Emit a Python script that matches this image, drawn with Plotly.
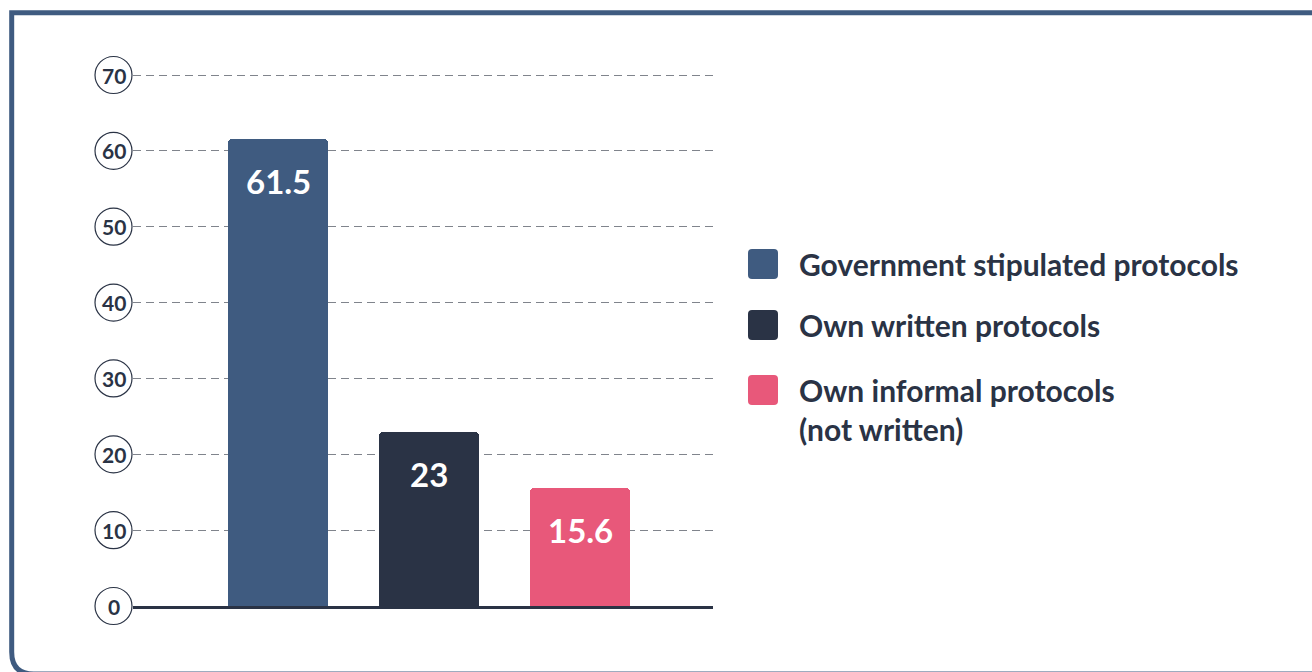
import plotly.graph_objects as go

# Survey shares by protocol type (%)
categories = ["Government stipulated protocols", "Own written protocols", "Own informal protocols<br>(not written)"]
values = [61.5, 23, 15.6]
value_labels = ["61.5", "23", "15.6"]
colors = ["#3f5b80", "#2a3345", "#e8587a"]
y_ticks = [0, 10, 20, 30, 40, 50, 60, 70]

W, H = 1312, 672
L, R, T, B = 133, 713, 67, 606  # plot-area pixel box
Y_MAX = (B - T) / ((606 - 75) / 70)  # a little headroom above the 70 line
INK = "#2a3345"
FONT = "Lato, 'Open Sans', sans-serif"


def px_x(p):
    return (p - L) / (R - L)


def px_y(p):
    return (B - p) / (B - T)


def rounded_rect(x0, y0, x1, y1, r):
    """Path (paper units) for a rounded rectangle given in pixel coords."""
    segs = [
        ("M", (x0 + r, y0)), ("L", (x1 - r, y0)), ("Q", (x1, y0), (x1, y0 + r)),
        ("L", (x1, y1 - r)), ("Q", (x1, y1), (x1 - r, y1)),
        ("L", (x0 + r, y1)), ("Q", (x0, y1), (x0, y1 - r)),
        ("L", (x0, y0 + r)), ("Q", (x0, y0), (x0 + r, y0)),
    ]
    out = []
    for s in segs:
        out.append(s[0] + " " + " ".join("{:.5f},{:.5f}".format(px_x(a), px_y(b)) for a, b in s[1:]))
    return " ".join(out) + " Z"


x_pos = list(range(len(values)))

fig = go.Figure()
fig.add_trace(go.Bar(
    x=x_pos, y=values, width=0.66,
    marker=dict(color=colors, line=dict(width=0), cornerradius=4),
    hoverinfo="skip", showlegend=False,
))

annotations = []
shapes = []

# value labels inside the top of each bar
for xi, v, lab in zip(x_pos, values, value_labels):
    annotations.append(dict(
        x=xi, y=v, xref="x", yref="y", text=f"<b>{lab}</b>", showarrow=False,
        yanchor="middle", yshift=-42,
        font=dict(family=FONT, size=33, color="white"),
    ))

# circled y tick labels
for t in y_ticks:
    shapes.append(dict(
        type="circle", xref="paper", yref="paper", xsizemode="pixel", ysizemode="pixel",
        xanchor=0, yanchor=t / Y_MAX, x0=-38, x1=-1, y0=-18.5, y1=18.5,
        line=dict(color=INK, width=1.2), fillcolor="rgba(0,0,0,0)", layer="above",
    ))
    annotations.append(dict(
        x=0, y=t / Y_MAX, xref="paper", yref="paper", text=f"<b>{t}</b>", showarrow=False,
        xanchor="center", yanchor="middle", xshift=-19.5,
        font=dict(family=FONT, size=21, color=INK),
    ))

# legend drawn beside the plot
legend_rows = [264, 325, 390]
for cat, col, cy in zip(categories, colors, legend_rows):
    shapes.append(dict(
        type="path", xref="paper", yref="paper",
        path=rounded_rect(748, cy - 15, 778, cy + 15, 4),
        fillcolor=col, line=dict(width=0), layer="above",
    ))
    annotations.append(dict(
        x=px_x(797), y=px_y(cy - 20), xref="paper", yref="paper",
        text=f"<b>{cat}</b>", showarrow=False, xanchor="left", yanchor="top",
        align="left", font=dict(family=FONT, size=30, color=INK),
    ))

# outer frame with a rounded bottom-left corner
pts = [(1330, 12.8), (11.7, 12.8), (11.7, 652)]
path = "M {:.5f},{:.5f}".format(px_x(pts[0][0]), px_y(pts[0][1]))
for px, py in pts[1:]:
    path += " L {:.5f},{:.5f}".format(px_x(px), px_y(py))
path += " Q {:.5f},{:.5f} {:.5f},{:.5f}".format(px_x(11.7), px_y(674), px_x(33.7), px_y(674))
path += " L {:.5f},{:.5f}".format(px_x(1330), px_y(674))
shapes.append(dict(type="path", xref="paper", yref="paper", path=path,
                   line=dict(color="#3f5b80", width=5), layer="above"))

fig.update_layout(
    width=W, height=H,
    margin=dict(l=L, r=W - R, t=T, b=H - B, pad=0),
    paper_bgcolor="white", plot_bgcolor="white",
    font=dict(family=FONT, color=INK),
    xaxis=dict(range=[-0.96, 2.88], showticklabels=False, showgrid=False,
               zeroline=False, showline=True, linecolor=INK, linewidth=2.5,
               ticks="", fixedrange=True),
    yaxis=dict(range=[0, Y_MAX], tickvals=y_ticks, showticklabels=False,
               showgrid=True, gridcolor="#80848c", gridwidth=1, griddash="8px,5px",
               zeroline=False, showline=False, ticks="", fixedrange=True),
    shapes=shapes, annotations=annotations,
    showlegend=False, bargap=0,
)

fig.write_html("out.html", config={"displayModeBar": False})
